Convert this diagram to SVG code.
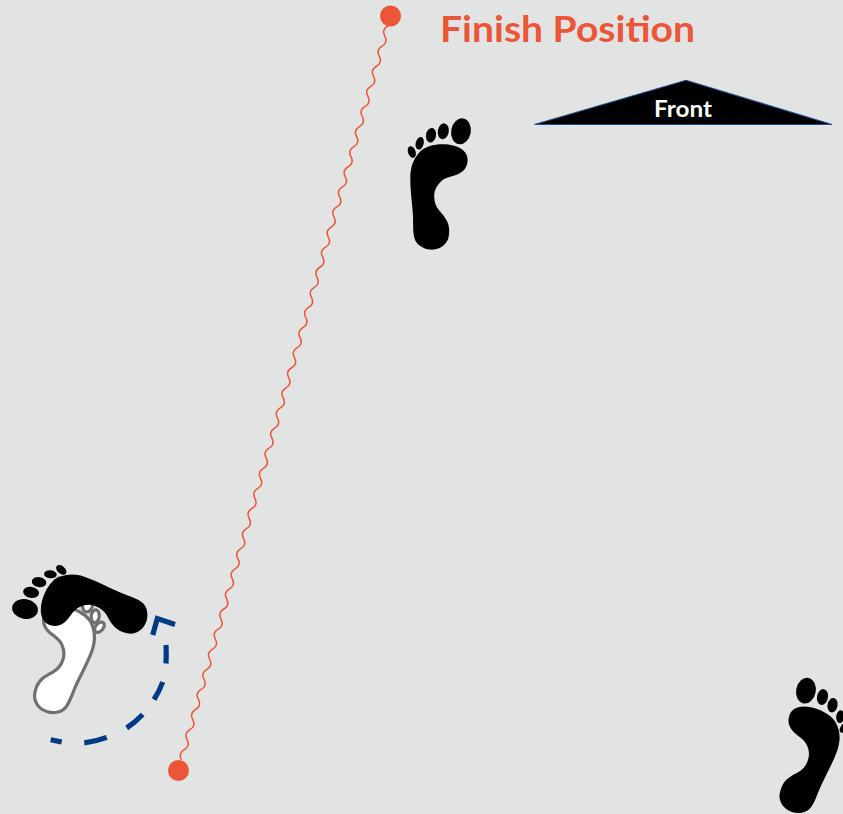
<svg xmlns="http://www.w3.org/2000/svg" xmlns:xlink="http://www.w3.org/1999/xlink" width="843" height="814" viewBox="0 0 843 814">
<style>
.t{font-family:Lato,"Open Sans","Liberation Sans",sans-serif;font-weight:700}
.dot{fill:#ec5638}
.blk{fill:#000}
.wht{fill:#fff;stroke:#707070;stroke-width:3.2}
</style>
<defs>
<g id="foot">
<path id="sole" d="M443.3 144.3C457 144.5 467.8 150 467.6 160C467.4 167.5 463.5 171.5 458.3 174C452 177 445 177 440.5 182C436 186.5 434.2 191 434.2 196.7C434.2 202 436 206.5 438.8 210C444 216 449.5 222 449.2 231C449 237 448 241 445 244C441.5 248 436 250 430 249.6C423 249 416 244.5 414.5 238.3C412.5 231 413.5 222 412.8 213.3C412 201 410 189 410.3 176.7C410.6 167 413 160 418.5 153.5C424 146.5 434 144.2 443.3 144.3Z"/>
<ellipse cx="461" cy="131.3" rx="9.8" ry="13" transform="rotate(10 461 131.3)"/>
<ellipse cx="443.3" cy="131.3" rx="5.5" ry="8" transform="rotate(10 443.3 131.3)"/>
<ellipse cx="431" cy="135.3" rx="5" ry="7.3" transform="rotate(10 431 135.3)"/>
<ellipse cx="419.7" cy="143.3" rx="4" ry="6.4" transform="rotate(15 419.7 143.3)"/>
<ellipse cx="411.8" cy="152" rx="3.8" ry="6" transform="rotate(-20 411.8 152)"/>
</g>
</defs>
<rect id="background" width="843" height="814" fill="#e2e4e3"/>
<g id="connectors">
<path id="wavy-path" transform="translate(390.5 16) rotate(105.7)" fill="none" stroke="#ec5638" stroke-width="1.5" d="M0 0q5.2 -5 10.44 0t10.44 0t10.44 0t10.44 0t10.44 0t10.44 0t10.44 0t10.44 0t10.44 0t10.44 0t10.44 0t10.44 0t10.44 0t10.44 0t10.44 0t10.44 0t10.44 0t10.44 0t10.44 0t10.44 0t10.44 0t10.44 0t10.44 0t10.44 0t10.44 0t10.44 0t10.44 0t10.44 0t10.44 0t10.44 0t10.44 0t10.44 0t10.44 0t10.44 0t10.44 0t10.44 0t10.44 0t10.44 0t10.44 0t10.44 0t10.44 0t10.44 0t10.44 0t10.44 0t10.44 0t10.44 0t10.44 0t10.44 0t10.44 0t10.44 0t10.44 0t10.44 0t10.44 0t10.44 0t10.44 0t10.44 0t10.44 0t10.44 0t10.44 0t10.44 0t10.44 0t10.44 0t10.44 0t10.44 0t10.44 0t10.44 0t10.44 0t10.44 0t10.44 0t10.44 0t10.44 0t10.44 0t10.44 0t10.44 0"/>
<path id="turn-arc" fill="none" stroke="#003a84" stroke-width="5.2" d="M50.7 739.8L61.7 742M84.3 742.8Q96 741.5 106.7 737.4M126.7 728Q135.5 722 142.7 714.5M154 699.5Q159.5 691 162.7 682M166 663.5Q166.5 654 166 645M152.7 635L157.3 618.5L175 624.5"/>
</g>
<g id="foot-start-white" class="wht" transform="translate(538.4 632.9) rotate(21) scale(-1 1)"><use xlink:href="#foot" href="#foot"/></g>
<g id="foot-start-black" class="blk" transform="translate(59.3 130.9) rotate(-70) scale(-1 1)"><use xlink:href="#foot" href="#foot"/></g>
<g id="foot-finish" class="blk"><use xlink:href="#foot" href="#foot"/></g>
<g id="foot-right" class="blk" transform="translate(1283.4 733.3) rotate(21) scale(-1 1)"><use xlink:href="#foot" href="#foot"/></g>
<g id="dot-finish"><circle class="dot" cx="390.5" cy="16" r="10.5"/></g>
<g id="dot-start"><circle class="dot" cx="178.5" cy="770.5" r="10.5"/></g>
<g id="label-finish"><text class="t" x="440" y="41.5" font-size="37" fill="#ec5638" textLength="255" lengthAdjust="spacingAndGlyphs">Finish Position</text></g>
<g id="front">
<polygon points="534.5,124.5 686,80.3 832,124.5" fill="#000" stroke="#1f4e8c" stroke-width="1.1"/>
<text class="t" x="654" y="116.7" font-size="23" fill="#fff" textLength="58" lengthAdjust="spacingAndGlyphs">Front</text>
</g>
</svg>
